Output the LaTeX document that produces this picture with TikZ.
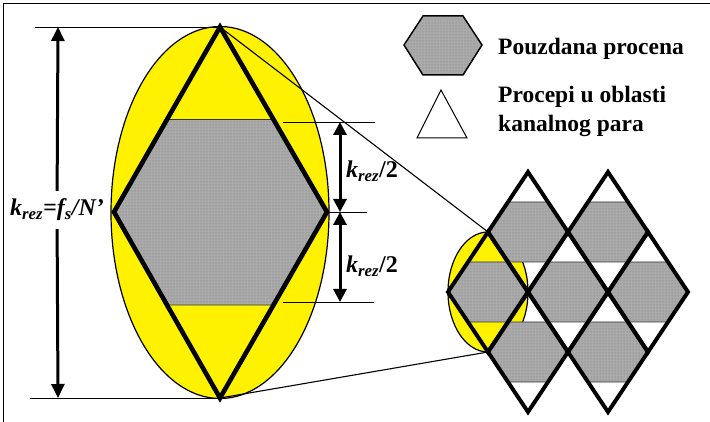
\documentclass[tikz,border=0pt]{standalone}
\usepackage{fontspec}
\setmainfont{Liberation Serif}
\usepackage{tikz}
\usetikzlibrary{arrows.meta,calc,patterns}

\definecolor{hexgray}{RGB}{170,170,170}
\definecolor{dotgray}{RGB}{120,120,120}
\newcommand{\krez}{\textit{k}\textsubscript{\textit{rez}}}

\begin{document}
\begin{tikzpicture}[x=1pt, y=-1pt,
    hexfill/.style={draw=black!80, line width=0.8pt, fill=hexgray, postaction={pattern=dots, pattern color=dotgray}},
    rhomb/.style={draw, line width=4.6pt, line join=miter},
    dimline/.style={line width=0.9pt},
    dimarrow/.style={line width=3pt, -{Triangle[length=14pt,width=13pt]}},
    lbl/.style={font=\fontsize{23.5}{29}\selectfont\bfseries}]
    \useasboundingbox (0,0) rectangle (710,422);
    \draw[line width=1pt] (3,422) -- (3,4) -- (710,4);
    % main cell
    \coordinate (mtop) at (220,27);
    \coordinate (mright) at (327,212);
    \coordinate (mbot) at (220,398);
    \coordinate (mleft) at (114,212);
    \draw[fill=yellow, line width=1.2pt] (220,212.5) ellipse [x radius=109, y radius=186];
    \path[hexfill] (mleft) -- ($(mleft)!0.5!(mtop)$) -- ($(mright)!0.5!(mtop)$) -- (mright)
        -- ($(mright)!0.5!(mbot)$) -- ($(mleft)!0.5!(mbot)$) -- cycle;
    \draw[rhomb] (mtop) -- (mright) -- (mbot) -- (mleft) -- cycle;
    % zoom lines
    \coordinate (stop) at (488,232);
    \coordinate (sbot) at (488,352);
    \draw[line width=1.1pt] (mtop) -- (stop);
    \draw[line width=1.1pt] (mbot) -- (sbot);
    % left dimension
    \coordinate (ltop) at (58,27);
    \coordinate (lbot) at (58,398);
    \draw[dimline] (35,27) -- (mtop);
    \draw[dimline] (30,398) -- (mbot);
    \node[lbl, font=\fontsize{24}{29}\selectfont\bfseries\itshape, inner sep=0pt] (ltext) at (57,210)
        {\krez=\textit{f}\textsubscript{\textit{s}}/\textit{N}'};
    \draw[dimarrow, shorten <=8pt] (ltext) -- (ltop);
    \draw[dimarrow, shorten <=8pt] (ltext) -- (lbot);
    % right dimension
    \coordinate (rtop) at (340,122);
    \coordinate (rmid) at (340,212);
    \coordinate (rbot) at (340,302);
    \draw[dimline] (283,122) -- (375,122);
    \draw[dimline] (mright) -- (367,212);
    \draw[dimline] (283,302) -- (374,302);
    \draw[dimarrow, {Triangle[length=13pt,width=13pt]}-{Triangle[length=13pt,width=13pt]}] (rtop) -- (rmid);
    \draw[dimarrow, {Triangle[length=13pt,width=13pt]}-{Triangle[length=13pt,width=13pt]}] (rmid) -- (rbot);
    \node[lbl, font=\fontsize{24}{29}\selectfont\bfseries, anchor=base west, inner sep=0pt] (rtext1) at (346,178) {\krez/2};
    \node[lbl, font=\fontsize{24}{29}\selectfont\bfseries, anchor=base west, inner sep=0pt] (rtext2) at (346,273) {\krez/2};
    % lattice
    \draw[fill=yellow, line width=1.2pt] (488,292) ellipse [x radius=40, y radius=60];
    \foreach \cx/\cy in {528/232, 608/232, 488/292, 568/292, 648/292, 528/352, 608/352}
        \path[hexfill] ({\cx-40},\cy) -- ({\cx-20},{\cy-30}) -- ({\cx+20},{\cy-30}) -- ({\cx+40},\cy)
            -- ({\cx+20},{\cy+30}) -- ({\cx-20},{\cy+30}) -- cycle;
    \foreach \cx/\cy in {528/232, 608/232, 488/292, 568/292, 648/292, 528/352, 608/352}
        \draw[rhomb, line width=4pt] (\cx,{\cy-60}) -- ({\cx+40},\cy) -- (\cx,{\cy+60}) -- ({\cx-40},\cy) -- cycle;
    % legend
    \path[hexfill, line width=1.5pt, draw=black] (404,45) -- (423,16) -- (463,16) -- (482,45) -- (463,75) -- (423,75) -- cycle;
    \draw[line width=1pt] (417,138) -- (467,138) -- (441,90) -- cycle;
    \node[lbl, anchor=base west, inner sep=0pt] (hexlbl) at (498,55) {Pouzdana procena};
    \node[lbl, anchor=base west, inner sep=0pt] (trilbl1) at (498,103) {Procepi u oblasti};
    \node[lbl, anchor=base west, inner sep=0pt] (trilbl2) at (498,132) {kanalnog para};
\end{tikzpicture}
\end{document}
